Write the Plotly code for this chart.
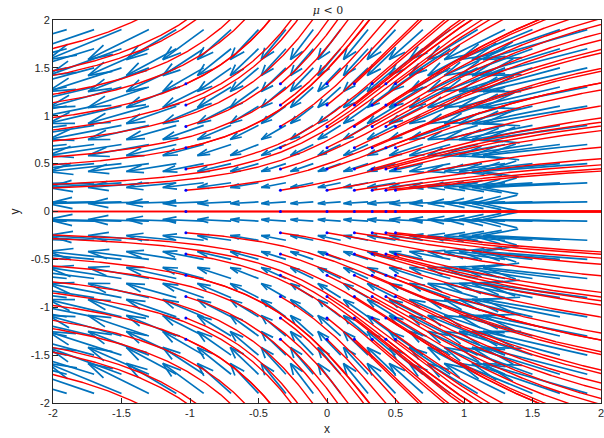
import numpy as np
import plotly.graph_objects as go

# Saddle-node normal form: x' = mu - x^2, y' = -y
mu = -1.0

# quiver grid (tails)
grid_x = [-1.9, -1.7, -1.5, -1.3, -1.1, -0.9, -0.7, -0.5, -0.3, -0.1,
          0.1, 0.3, 0.5, 0.7, 0.9, 1.1, 1.3, 1.5, 1.7, 1.9]
grid_y = [-1.9, -1.7, -1.5, -1.3, -1.1, -0.9, -0.7, -0.5, -0.3, -0.1,
          0.1, 0.3, 0.5, 0.7, 0.9, 1.1, 1.3, 1.5, 1.7, 1.9]
arrow_scale = 0.165

# streamline seeds (marked with dots) and seeds left of the view
seed_x = [-1.03, -0.34, 0.0, 0.2, 0.33, 0.43, 0.5]
seed_y = [-1.333, -1.111, -0.889, -0.667, -0.444, -0.222, 0.0,
          0.222, 0.444, 0.667, 0.889, 1.111, 1.333]
offview_seed_x = [-2.6, -4.5]

x_ticks = [-2, -1.5, -1, -0.5, 0, 0.5, 1, 1.5, 2]
y_ticks = [-2, -1.5, -1, -0.5, 0, 0.5, 1, 1.5, 2]


def field(x, y):
    return mu - x ** 2, -y


# quiver arrows (shaft + open head), MATLAB style
alpha, beta = 0.33, 0.33
ax, ay = [], []
for gx in grid_x:
    for gy in grid_y:
        u, v = field(gx, gy)
        u *= arrow_scale
        v *= arrow_scale
        tx, ty = gx + u, gy + v
        ax += [gx, tx, None,
               tx - alpha * (u + beta * v), tx, tx - alpha * (u - beta * v), None]
        ay += [gy, ty, None,
               ty - alpha * (v - beta * u), ty, ty - alpha * (v + beta * u), None]


def trace_back(x0, y0, ds=0.004, xmax=2.1, ymax=2.1, nmax=6000):
    # follow the flow backwards in time (towards +x)
    xs, ys = [x0], [y0]
    x, y = x0, y0

    def f(px, py):
        u, v = field(px, py)
        n = np.hypot(u, v)
        return -u / n, -v / n

    for _ in range(nmax):
        k1 = f(x, y)
        k2 = f(x + ds / 2 * k1[0], y + ds / 2 * k1[1])
        k3 = f(x + ds / 2 * k2[0], y + ds / 2 * k2[1])
        k4 = f(x + ds * k3[0], y + ds * k3[1])
        x += ds / 6 * (k1[0] + 2 * k2[0] + 2 * k3[0] + k4[0])
        y += ds / 6 * (k1[1] + 2 * k2[1] + 2 * k3[1] + k4[1])
        xs.append(x)
        ys.append(y)
        if x > xmax or abs(y) > ymax:
            break
    return xs, ys


sx_all, sy_all = [], []
for sx in seed_x + offview_seed_x:
    for sy in seed_y:
        xs, ys = trace_back(sx, sy, ds=0.004 if sx > -2 else 0.01)
        sx_all += xs + [None]
        sy_all += ys + [None]

dots_x = [sx for sx in seed_x for sy in seed_y]
dots_y = [sy for sx in seed_x for sy in seed_y]

fig = go.Figure()
fig.add_trace(go.Scatter(x=ax, y=ay, mode="lines",
                         line=dict(color="#0072BD", width=1.7),
                         hoverinfo="skip", showlegend=False))
fig.add_trace(go.Scatter(x=sx_all, y=sy_all, mode="lines",
                         line=dict(color="#FF0000", width=1.4),
                         hoverinfo="skip", showlegend=False))
fig.add_trace(go.Scatter(x=dots_x, y=dots_y, mode="markers",
                         marker=dict(color="#0000FF", size=3),
                         cliponaxis=True, hoverinfo="skip", showlegend=False))

axis_style = dict(showline=True, linecolor="#262626", linewidth=1, mirror=True,
                  ticks="inside", ticklen=5, tickcolor="#262626",
                  showgrid=False, zeroline=False, ticklabeloverflow="allow",
                  tickfont=dict(family="Liberation Sans", size=11, color="#262626"))
fig.update_xaxes(range=[-2, 2], tickvals=x_ticks,
                 ticktext=[f"{t:g}" for t in x_ticks],
                 title=dict(text="x", font=dict(family="Liberation Sans", size=12, color="#262626"),
                            standoff=6),
                 **axis_style)
fig.update_yaxes(range=[-2, 2], tickvals=y_ticks,
                 ticktext=[f"{t:g}" for t in y_ticks],
                 title=dict(text="y", font=dict(family="Liberation Sans", size=12, color="#262626"),
                            standoff=8),
                 **axis_style)
fig.update_layout(
    width=604, height=438,
    margin=dict(l=53, r=0, t=20, b=35),
    paper_bgcolor="white", plot_bgcolor="white",
    title=dict(text="<i>μ</i> &lt; 0", x=0.543, xanchor="center", y=0.977, yanchor="middle",
               font=dict(family="DejaVu Serif", size=11, color="#262626")),
)
fig.write_html("out.html")
